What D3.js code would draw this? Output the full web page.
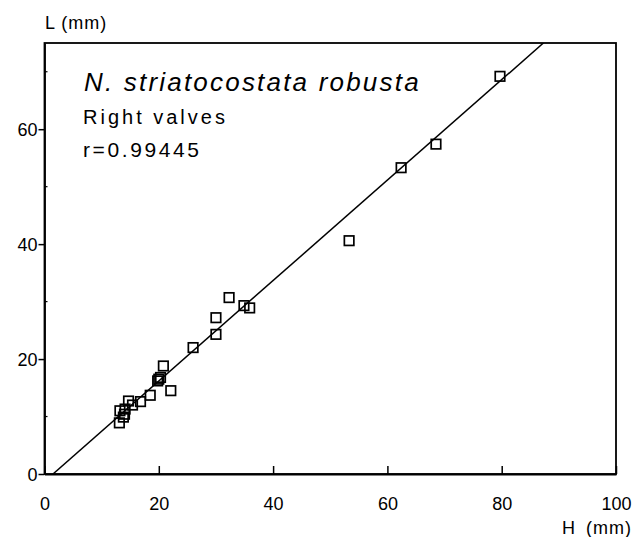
<!DOCTYPE html>
<html>
<head>
<meta charset="utf-8">
<script src="https://cdn.jsdelivr.net/npm/d3@7"></script>
<style>
  html, body { margin: 0; padding: 0; background: #fff; }
  svg { display: block; }
  text { font-family: "Liberation Sans", Arial, Helvetica, sans-serif; fill: #000; }
</style>
</head>
<body>
<svg id="chart" width="634" height="537"></svg>
<script>
// ---- data ----
const H = [13.1, 13.8, 13.2, 14.1, 14.0, 14.7, 15.4, 16.8, 18.5, 22.1, 19.8, 20.0, 20.3, 20.8, 26.0, 30.0, 30.0, 32.3, 34.9, 35.9, 53.3, 62.4, 68.5, 79.7];
const L = [8.9, 9.9, 11.0, 11.3, 10.4, 12.7, 12.0, 12.6, 13.7, 14.5, 16.2, 16.5, 16.8, 18.8, 22.0, 24.3, 27.2, 30.7, 29.3, 28.9, 40.6, 53.3, 57.4, 69.2];
const xTicks = [0, 20, 40, 60, 80, 100];
const yTicks = [0, 20, 40, 60];
const yMinorTicks = [10, 30, 50, 70];
const regIntercept = -1.3;
const regSlope = 0.874;
const title = "N. striatocostata robusta";
const subtitle = "Right valves";
const rLabel = "r=0.99445";

// ---- layout ----
const svg = d3.select("#chart");
const x = d3.scaleLinear().domain([0, 100]).range([44.5, 616]);
const y = d3.scaleLinear().domain([0, 75]).range([474, 43]);

// frame
svg.append("rect")
  .attr("x", x(0)).attr("y", y(75))
  .attr("width", x(100) - x(0)).attr("height", y(0) - y(75))
  .attr("fill", "none").attr("stroke", "#000").attr("stroke-width", 1.8);

// x axis
const xAxis = d3.axisBottom(x).tickValues(xTicks).tickSizeInner(-8).tickSizeOuter(0).tickPadding(23).tickFormat(d3.format("d"));
const gx = svg.append("g").attr("transform", `translate(0,${y(0)})`).call(xAxis);
gx.select(".domain").attr("stroke-width", 1.8);
gx.selectAll(".tick line").attr("stroke-width", 1.5);
gx.selectAll("text").style("font-size", "18px").attr("font-family", null);

// y axis
const yAxis = d3.axisLeft(y).tickValues(yTicks).tickSizeInner(6).tickSizeOuter(0).tickPadding(1).tickFormat(d3.format("d"));
const gy = svg.append("g").attr("transform", `translate(${x(0)},0)`).call(yAxis);
gy.select(".domain").attr("stroke-width", 1.8);
gy.selectAll(".tick line").attr("stroke-width", 1.5);
gy.selectAll("text").style("font-size", "18px").attr("font-family", null).attr("dy", "0.36em");

// minor y ticks (inward)
svg.append("g").selectAll("line").data(yMinorTicks).join("line")
  .attr("x1", x(0)).attr("x2", x(0) + 3)
  .attr("y1", d => y(d)).attr("y2", d => y(d))
  .attr("stroke", "#000").attr("stroke-width", 1.2);

// axis titles
svg.append("text").attr("x", 45).attr("y", 29).style("font-size", "18px")
  .style("letter-spacing", "1px").text("L (mm)");
svg.append("text").attr("x", 632).attr("y", 534).attr("text-anchor", "end")
  .style("font-size", "18px").style("letter-spacing", "1px").style("word-spacing", "4px").text("H (mm)");

// regression line, clipped to the frame
svg.append("clipPath").attr("id", "clip").append("rect")
  .attr("x", x(0)).attr("y", y(75)).attr("width", x(100) - x(0)).attr("height", y(0) - y(75));
const hStart = (0 - regIntercept) / regSlope;
const hEnd = (75 - regIntercept) / regSlope;
svg.append("line")
  .attr("clip-path", "url(#clip)")
  .attr("x1", x(hStart)).attr("y1", y(regIntercept + regSlope * hStart))
  .attr("x2", x(hEnd)).attr("y2", y(regIntercept + regSlope * hEnd))
  .attr("stroke", "#000").attr("stroke-width", 1.5);

// points (open squares)
const s = 9.5;
svg.append("g").selectAll("rect").data(H.map((h, i) => [h, L[i]])).join("rect")
  .attr("x", d => x(d[0]) - s / 2).attr("y", d => y(d[1]) - s / 2)
  .attr("width", s).attr("height", s)
  .attr("fill", "none").attr("stroke", "#000").attr("stroke-width", 1.7);

// annotations
svg.append("text").attr("x", 84).attr("y", 91)
  .style("font-size", "26px").style("font-style", "italic").style("letter-spacing", "2.2px")
  .text(title);
svg.append("text").attr("x", 83).attr("y", 124)
  .style("font-size", "20px").style("letter-spacing", "3px").text(subtitle);
svg.append("text").attr("x", 83).attr("y", 157)
  .style("font-size", "21px").style("letter-spacing", "2.6px").text(rLabel);
</script>
</body>
</html>
